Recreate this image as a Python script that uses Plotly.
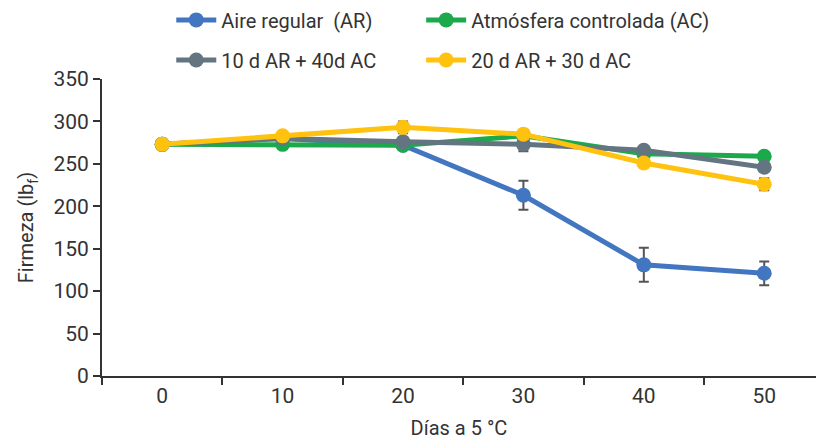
import plotly.graph_objects as go

dias = [0, 10, 20, 30, 40, 50]
ar = [273, 280, 272, 213, 131, 121]
ar_err = [0, 0, 0, 17, 20, 14]
ac = [273, 273, 272, 283, 262, 259]
ac_err = [0, 0, 0, 0, 0, 0]
mix10 = [273, 280, 276, 273, 266, 246]
mix10_err = [0, 0, 5, 8, 0, 0]
mix20 = [273, 283, 293, 285, 251, 226]
mix20_err = [0, 0, 7, 0, 0, 7]

names = ["Aire regular  (AR)", "Atmósfera controlada (AC)", "10 d AR + 40d AC", "20 d AR + 30 d AC"]
colors = ["#4276C1", "#1BA94C", "#627581", "#FFC20E"]
series = [ar, ac, mix10, mix20]
errs = [ar_err, ac_err, mix10_err, mix20_err]
legends = ["legend", "legend2", "legend3", "legend4"]

FONT = "Roboto"
TXT = "#333333"

fig = go.Figure()
for name, col, ys, er, lg in zip(names, colors, series, errs, legends):
    fig.add_trace(go.Scatter(
        x=dias, y=ys, name=name, mode="lines+markers",
        line=dict(color=col, width=5),
        marker=dict(color=col, size=15),
        error_y=dict(type="data", array=er, visible=True, color="#555555", thickness=2, width=5),
        legend=lg, showlegend=True,
    ))

def leg(x, y):
    return dict(orientation="h", x=x, y=y, xanchor="left", yanchor="middle",
                font=dict(size=20, color=TXT), bgcolor="rgba(0,0,0,0)", itemwidth=40)

fig.update_layout(
    width=816, height=440,
    showlegend=True,
    margin=dict(l=102, r=0, t=79, b=64),
    paper_bgcolor="white", plot_bgcolor="white",
    font=dict(family=FONT, size=22, color=TXT),
    legend=leg(0.097, 1.199),
    legend2=leg(0.447, 1.199),
    legend3=leg(0.097, 1.064),
    legend4=leg(0.447, 1.064),
    xaxis=dict(
        range=[-5, 54.3], tickvals=dias, ticktext=[str(d) for d in dias],
        ticks="", showgrid=False, zeroline=False,
        showline=True, linecolor="#333333", linewidth=2,
        minor=dict(tickvals=[-5, 5, 15, 25, 35, 45], ticks="outside", ticklen=7,
                   tickcolor="#333333", tickwidth=2, showgrid=False),
        title=dict(text="Días a 5 °C", font=dict(size=20, color=TXT), standoff=16),
        tickfont=dict(size=21, color=TXT),
    ),
    yaxis=dict(
        range=[0, 350], tickvals=[0, 50, 100, 150, 200, 250, 300, 350],
        ticks="outside", ticklen=7, tickcolor="#333333", tickwidth=2,
        showgrid=False, zeroline=False,
        showline=True, linecolor="#333333", linewidth=2,
        title=dict(text="Firmeza (lb<sub>f</sub>)", font=dict(size=20, color=TXT), standoff=14),
        tickfont=dict(size=21, color=TXT),
    ),
)

fig.write_html("out.html", config={"displayModeBar": False},
               post_script="document.body.style.margin='0';")
